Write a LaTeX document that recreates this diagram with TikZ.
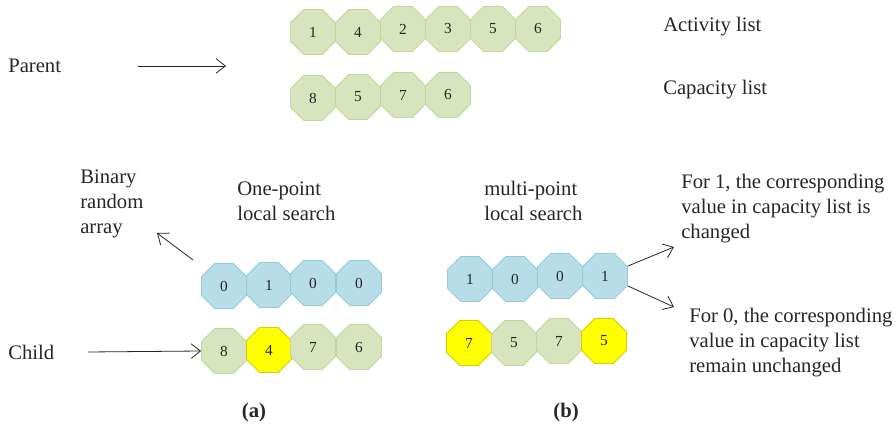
\documentclass[tikz,border=0pt]{standalone}
\usepackage{fontspec}
\setmainfont{Liberation Serif}
\usetikzlibrary{shapes.geometric,arrows.meta}
\definecolor{gfill}{HTML}{D7E4BD}
\definecolor{gline}{HTML}{C3D69B}
\definecolor{bfill}{HTML}{B7DDE8}
\definecolor{bline}{HTML}{93CDDD}
\definecolor{yfill}{HTML}{FFFF00}
\definecolor{yline}{HTML}{D0D000}
\definecolor{ink}{HTML}{262626}
\begin{document}
\begin{tikzpicture}[x=0.75pt,y=-0.75pt,
  oct/.style={regular polygon,regular polygon sides=8,minimum size=36.5pt,inner sep=0pt,line width=0.6pt,text=ink,font=\fontsize{11.5}{13}\selectfont},
  goct/.style={oct,fill=gfill,draw=gline},
  boct/.style={oct,fill=bfill,draw=bline},
  yoct/.style={oct,fill=yfill,draw=yline},
  lbl/.style={inner sep=0pt,anchor=west,align=left,text=ink,font=\fontsize{15.5}{18.75}\selectfont},
  arr/.style={-{Straight Barb[length=7pt,width=11pt]},line width=0.6pt,draw=ink}]
\useasboundingbox (0,0) rectangle (896,434);

% top rows
\node[goct] (a1) at (313,32) {1};
\node[goct] (a2) at (358,32) {4};
\node[goct] (a3) at (403,29) {2};
\node[goct] (a4) at (448,29) {3};
\node[goct] (a5) at (493,29) {5};
\node[goct] (a6) at (538,29) {6};
\node[goct] (p1) at (313,98) {8};
\node[goct] (p2) at (358,97) {5};
\node[goct] (p3) at (403,95) {7};
\node[goct] (p4) at (448,95) {6};
\node[lbl] (act) at (663,27) {Activity list};
\node[lbl] (cap) at (663,90) {Capacity list};
\node[lbl] (parent) at (8,66) {Parent};
\coordinate (pa1) at (138,66);
\coordinate (pa2) at (226,66);
\draw[arr] (pa1) -- (pa2);

% (a)
\node[boct] (l1) at (224,286) {0};
\node[boct] (l2) at (269,285) {1};
\node[boct] (l3) at (313,283) {0};
\node[boct] (l4) at (359,283) {0};
\node[goct] (c1) at (224,351) {8};
\node[yoct] (c2) at (269,350) {4};
\node[goct] (c3) at (313,347) {7};
\node[goct] (c4) at (359,347) {6};
\node[lbl] (bin) at (80,204) {Binary\\random\\array};
\node[lbl] (one) at (237,201) {One-point\\local search};
\node[lbl] (child) at (8,352) {Child};
\coordinate (ca1) at (88,352);
\draw[arr] (ca1) -- (c1.west);
\coordinate (ba1) at (193,260);
\coordinate (ba2) at (157,233);
\draw[arr] (ba1) -- (ba2);
\node[font=\bfseries\fontsize{15.5}{18.75}\selectfont,inner sep=0pt,text=ink] (la) at (254,413) {(a)};

% (b)
\node[boct] (r1) at (470,279) {1};
\node[boct] (r2) at (515,279) {0};
\node[boct] (r3) at (560,276) {0};
\node[boct] (r4) at (605,276) {1};
\node[yoct] (d1) at (469,343) {7};
\node[goct] (d2) at (514,343) {5};
\node[goct] (d3) at (559,341) {7};
\node[yoct] (d4) at (604,341) {5};
\node[lbl] (multi) at (484,201) {multi-point\\local search};
\node[lbl] (f1) at (681,209) {For 1, the corresponding\\value in capacity list is\\changed};
\node[lbl] (f0) at (689,343) {For 0, the corresponding\\value in capacity list\\remain unchanged};
\coordinate (ra1) at (628,266);
\coordinate (ra2) at (674,247);
\coordinate (rb1) at (628,286);
\coordinate (rb2) at (674,307);
\draw[arr] (ra1) -- (ra2);
\draw[arr] (rb1) -- (rb2);
\node[font=\bfseries\fontsize{15.5}{18.75}\selectfont,inner sep=0pt,text=ink] (lb) at (566,413) {(b)};
\end{tikzpicture}
\end{document}
